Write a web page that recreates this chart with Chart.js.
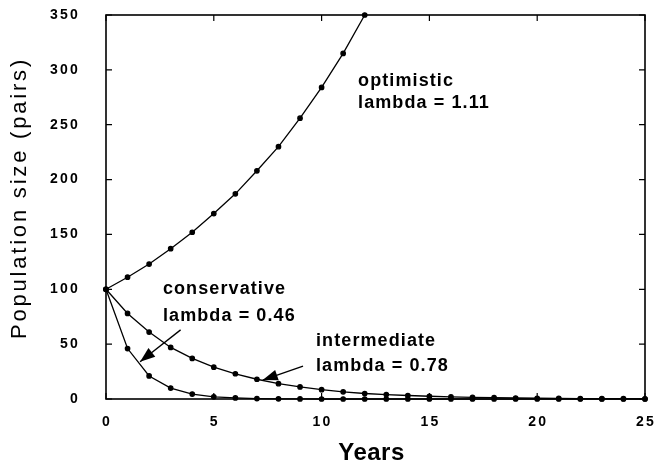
<!DOCTYPE html>
<html>
<head>
<meta charset="utf-8">
<script src="https://cdn.jsdelivr.net/npm/chart.js@4/dist/chart.umd.min.js"></script>
<style>
  html, body { margin: 0; padding: 0; background: #fff; }
  #wrap { width: 662px; height: 469px; }
</style>
</head>
<body>
<div id="wrap"><canvas id="popChart"></canvas></div>
<script>
// years on the x axis
const years = [0,1,2,3,4,5,6,7,8,9,10,11,12,13,14,15,16,17,18,19,20,21,22,23,24,25];

// population (pairs)
const optimistic = [100,111,123,137,152,169,187,208,230,256,284,315,350];
const intermediate = [100,78,61,47,37,29,23,18,14,11,8.5,6.5,5,4,3.2,2.5,1.9,1.5,1.2,0.9,0.7,0.6,0.4,0.3,0.3,0.2];
const conservative = [100,46,21,10,4.5,2,1,0.4,0.2,0.1,0,0,0,0,0,0,0,0,0,0,0,0,0,0,0,0];

const xTicks = [0,5,10,15,20,25];
const yTicks = [0,50,100,150,200,250,300,350];

// label text + baseline anchor in data units
const notes = [
  { text: 'optimistic', x: 11.69, y: 285 },
  { text: 'lambda = 1.11', x: 11.69, y: 265 },
  { text: 'conservative', x: 2.64, y: 96 },
  { text: 'lambda = 0.46', x: 2.64, y: 71.5 },
  { text: 'intermediate', x: 9.74, y: 48.5 },
  { text: 'lambda = 0.78', x: 9.74, y: 25.5 },
];
// arrows: tail -> tip, data units
const arrows = [
  { x0: 3.46, y0: 63, x1: 1.58, y1: 34 },
  { x0: 9.14, y0: 30, x1: 7.27, y1: 17.3 },
];

const FONT = '"Liberation Sans", Arial, sans-serif';
const toXY = (arr) => arr.map((v, i) => ({ x: years[i], y: v }));

const frame = {
  id: 'frame',
  afterDatasetsDraw(chart) {
    const { ctx, chartArea: a, scales: { x, y } } = chart;
    ctx.save();
    ctx.strokeStyle = '#000';
    ctx.fillStyle = '#000';
    ctx.lineWidth = 1.6;
    ctx.strokeRect(a.left, a.top, a.right - a.left, a.bottom - a.top);
    ctx.lineWidth = 1.2;
    ctx.beginPath();
    xTicks.forEach(t => {
      const px = x.getPixelForValue(t);
      ctx.moveTo(px, a.bottom); ctx.lineTo(px, a.bottom - 6);
      ctx.moveTo(px, a.top); ctx.lineTo(px, a.top + 6);
    });
    yTicks.forEach(t => {
      const py = y.getPixelForValue(t);
      ctx.moveTo(a.left, py); ctx.lineTo(a.left + 6, py);
      ctx.moveTo(a.right, py); ctx.lineTo(a.right - 6, py);
    });
    ctx.stroke();

    // tick labels
    ctx.font = 'bold 14px ' + FONT;
    ctx.letterSpacing = '2.2px';
    ctx.textBaseline = 'middle';
    ctx.textAlign = 'right';
    yTicks.forEach(t => ctx.fillText(String(t), a.left - 26, y.getPixelForValue(t)));
    ctx.textAlign = 'center';
    xTicks.forEach(t => ctx.fillText(String(t), x.getPixelForValue(t) + 1, a.bottom + 23));

    // axis titles
    ctx.font = 'bold 24px ' + FONT;
    ctx.letterSpacing = '0.5px';
    ctx.fillText('Years', (a.left + a.right) / 2 - 4, a.bottom + 54);
    ctx.save();
    ctx.translate(20, 198);
    ctx.rotate(-Math.PI / 2);
    ctx.font = '22px ' + FONT;
    ctx.letterSpacing = '2.8px';
    ctx.fillText('Population size (pairs)', 0, 0);
    ctx.restore();

    // annotations
    ctx.font = 'bold 18px ' + FONT;
    ctx.letterSpacing = '1.1px';
    ctx.textAlign = 'left';
    ctx.textBaseline = 'alphabetic';
    notes.forEach(n => ctx.fillText(n.text, x.getPixelForValue(n.x), y.getPixelForValue(n.y)));

    arrows.forEach(ar => {
      const x0 = x.getPixelForValue(ar.x0), y0 = y.getPixelForValue(ar.y0);
      const x1 = x.getPixelForValue(ar.x1), y1 = y.getPixelForValue(ar.y1);
      const ang = Math.atan2(y1 - y0, x1 - x0);
      ctx.lineWidth = 1.3;
      ctx.beginPath();
      ctx.moveTo(x0, y0); ctx.lineTo(x1, y1);
      ctx.stroke();
      const len = 15, w = 5.5;
      ctx.beginPath();
      ctx.moveTo(x1, y1);
      ctx.lineTo(x1 - len * Math.cos(ang) + w * Math.sin(ang), y1 - len * Math.sin(ang) - w * Math.cos(ang));
      ctx.lineTo(x1 - len * Math.cos(ang) - w * Math.sin(ang), y1 - len * Math.sin(ang) + w * Math.cos(ang));
      ctx.closePath();
      ctx.fill();
    });
    ctx.restore();
  }
};

const line = (label, arr) => ({
  label,
  data: toXY(arr),
  borderColor: '#000',
  backgroundColor: '#000',
  borderWidth: 1.3,
  pointRadius: 2.2,
  pointStyle: 'circle',
  tension: 0,
  clip: false,
});

new Chart(document.getElementById('popChart'), {
  type: 'line',
  data: {
    datasets: [
      line('optimistic', optimistic),
      line('intermediate', intermediate),
      line('conservative', conservative),
    ]
  },
  options: {
    responsive: true,
    maintainAspectRatio: false,
    animation: false,
    layout: { padding: { top: 15, right: 17, left: 106, bottom: 70 } },
    plugins: {
      legend: { display: false },
      tooltip: { enabled: false },
    },
    scales: {
      x: { type: 'linear', min: 0, max: 25, display: false },
      y: { min: 0, max: 350, display: false },
    }
  },
  plugins: [frame]
});
</script>
</body>
</html>
